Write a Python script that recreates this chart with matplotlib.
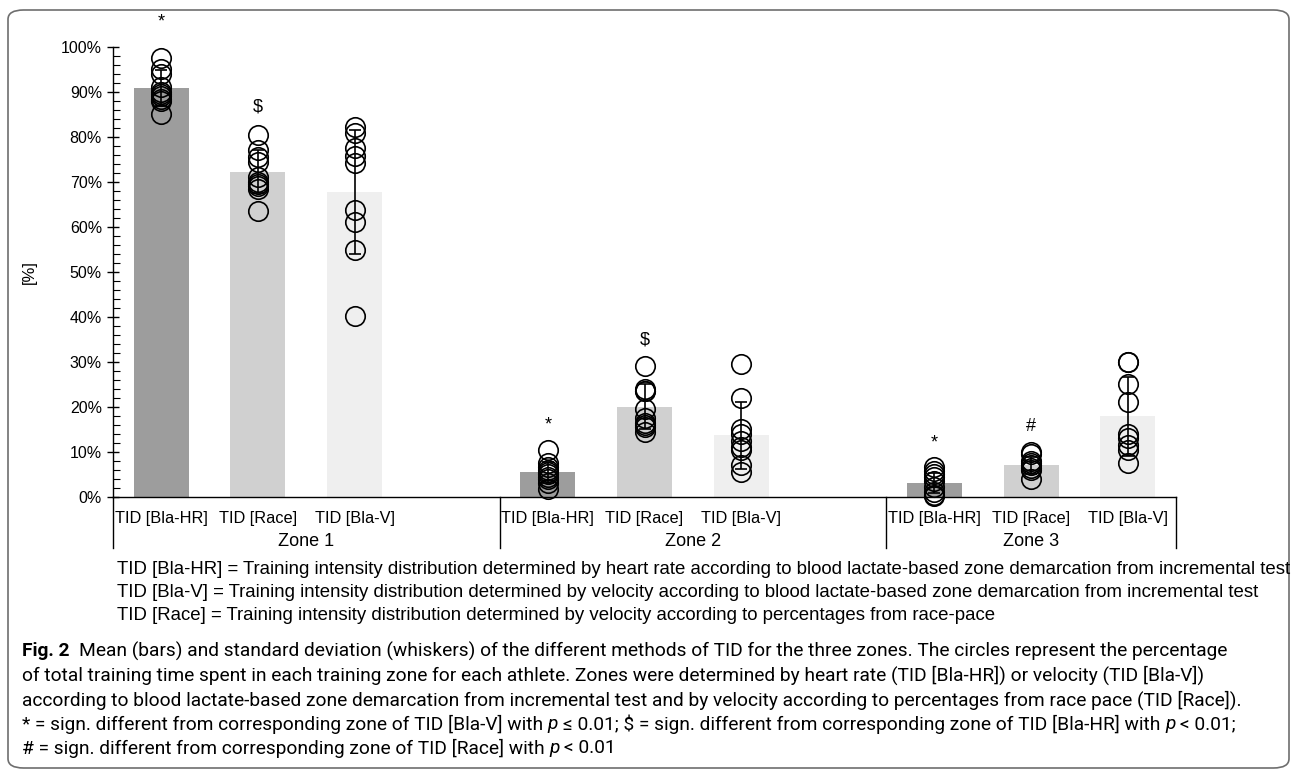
import matplotlib
matplotlib.use("Agg")
import matplotlib.pyplot as plt
import matplotlib.transforms as mtransforms
from matplotlib.patches import FancyBboxPatch

# data (percent of total training time)
zones = ["Zone 1", "Zone 2", "Zone 3"]
methods = ["TID [Bla-HR]", "TID [Race]", "TID [Bla-V]"]
positions = [0.5, 1.5, 2.5, 4.5, 5.5, 6.5, 8.5, 9.5, 10.5]
zone_edges = [0, 4, 8, 11]

means = [90.8, 72.3, 67.7, 5.5, 20.1, 13.7, 3.1, 7.0, 17.9]
sds = [4.0, 4.8, 13.8, 2.3, 5.0, 7.5, 2.3, 1.9, 8.8]

athletes = [
    [97.5, 95, 94, 91, 90, 89.5, 89, 88.5, 88, 85],
    [80.5, 77, 75.5, 74.5, 71, 70, 69.5, 69, 68.5, 63.5],
    [82.2, 80.9, 77.5, 75.8, 74.2, 63.8, 61.1, 54.9, 40.2],
    [10.5, 7.5, 6.7, 6, 5.5, 5, 4.5, 4, 3, 1.8],
    [29, 24, 23.5, 23.5, 19.5, 17.5, 16.5, 16, 15.5, 14.5],
    [29.5, 22, 15, 14, 12.5, 11, 10.5, 7, 5.5],
    [6.7, 5.8, 5, 4.5, 3.5, 2.3, 1, 0.5, 0.2],
    [10, 9.5, 8, 7.5, 7, 6.5, 6, 4],
    [30, 30, 25, 21, 14, 13, 11.5, 10.5, 7.5],
]

sig_marks = ["*", "$", "", "*", "$", "", "*", "#", ""]
sig_y = [105.5, 86.7, 0, 16.0, 34.9, 0, 12.0, 15.6, 0]

bar_colors = ["#9d9d9d", "#d0d0d0", "#efefef"] * 3

legend_lines = [
    "TID [Bla-HR] = Training intensity distribution determined by heart rate according to blood lactate-based zone demarcation from incremental test",
    "TID [Bla-V] = Training intensity distribution determined by velocity according to blood lactate-based zone demarcation from incremental test",
    "TID [Race] = Training intensity distribution determined by velocity according to percentages from race-pace",
]

W, H = 1296, 776
fig = plt.figure(figsize=(W / 100, H / 100), dpi=100)
ax = fig.add_axes([113 / W, 1 - 497 / H, (1176 - 113) / W, (497 - 47) / H])

chart_font = ["Liberation Sans", "DejaVu Sans"]
cap_font = ["Roboto", "Open Sans", "DejaVu Sans"]

ax.bar(positions, means, width=0.57, color=bar_colors, zorder=1)
ax.errorbar(positions, means, yerr=sds, fmt="none", ecolor="black",
            elinewidth=1.2, capsize=4.5, capthick=1.2, zorder=3)
for x, vals in zip(positions, athletes):
    ax.plot([x] * len(vals), vals, "o", ms=14, mfc="none", mec="black",
            mew=1.2, zorder=4, clip_on=False)
for x, m, y in zip(positions, sig_marks, sig_y):
    if m:
        ax.text(x, y, m, ha="center", va="center", fontsize=13,
                family=chart_font, clip_on=False)

ax.set_xlim(0, 11)
ax.set_ylim(0, 100)
ax.set_yticks(range(0, 101, 10))
ax.set_yticklabels([f"{v}%" for v in range(0, 101, 10)], family=chart_font, fontsize=11.5)
ax.set_yticks(range(0, 101, 2), minor=True)
ax.tick_params(axis="y", which="major", direction="inout", length=9, width=1)
ax.tick_params(axis="y", which="minor", direction="in", length=5, width=0.8)
ax.set_xticks([])
for s in ["top", "right"]:
    ax.spines[s].set_visible(False)
ax.spines["left"].set_linewidth(1)
ax.spines["bottom"].set_linewidth(1)
ax.set_ylabel("[%]", family=chart_font, fontsize=12, labelpad=17)

# multi-level category axis
trans = mtransforms.blended_transform_factory(ax.transData, ax.transAxes)
ah = 450.0
for i, x in enumerate(positions):
    ax.text(x, -22 / ah, methods[i % 3], transform=trans, ha="center",
            va="center", fontsize=11.8, family=chart_font)
for z in range(3):
    xc = (zone_edges[z] + zone_edges[z + 1]) / 2
    ax.text(xc, -44 / ah, zones[z], transform=trans, ha="center",
            va="center", fontsize=13, family=chart_font)
for e in zone_edges:
    ax.plot([e, e], [0, -51 / ah], transform=trans, color="black", lw=1,
            clip_on=False)

for i, line in enumerate(legend_lines):
    fig.text(117 / W, 1 - (569 + 23.5 * i) / H, line, ha="left", va="center",
             fontsize=13.4, family=chart_font)

# caption with mixed styles
fig.canvas.draw()
renderer = fig.canvas.get_renderer()


def text_width(s, **kw):
    t = fig.text(0, 0, s, **kw)
    w = t.get_window_extent(renderer).width
    t.remove()
    return w


def put_runs(x_px, y_px, parts, size=13.8):
    space = text_width("x x", fontsize=size, family=cap_font) - text_width("xx", fontsize=size, family=cap_font)
    for txt, weight, style in parts:
        lead = len(txt) - len(txt.lstrip(" "))
        trail = len(txt) - len(txt.rstrip(" "))
        x_px += lead * space
        core = txt.strip(" ")
        if core:
            t = fig.text(x_px / W, 1 - y_px / H, core, ha="left", va="center",
                         fontsize=size, family=cap_font, weight=weight, style=style)
            x_px += t.get_window_extent(renderer).width
        x_px += trail * space


n = ("normal", "normal")
put_runs(22, 651, [("Fig. 2", "bold", "normal"),
                   ("  Mean (bars) and standard deviation (whiskers) of the different methods of TID for the three zones. The circles represent the percentage",) + n])
put_runs(22, 675, [("of total training time spent in each training zone for each athlete. Zones were determined by heart rate (TID [Bla-HR]) or velocity (TID [Bla-V])",) + n])
put_runs(22, 700, [("according to blood lactate-based zone demarcation from incremental test and by velocity according to percentages from race pace (TID [Race]).",) + n])
put_runs(22, 724, [("* = sign. different from corresponding zone of TID [Bla-V] with ",) + n,
                   ("p", "normal", "italic"),
                   (" \u2264 0.01; $ = sign. different from corresponding zone of TID [Bla-HR] with ",) + n,
                   ("p", "normal", "italic"),
                   (" < 0.01;",) + n])
put_runs(22, 748, [("# = sign. different from corresponding zone of TID [Race] with ",) + n,
                   ("p", "normal", "italic"),
                   (" < 0.01",) + n])

border = FancyBboxPatch((8 / W, 1 - 768 / H), (1289 - 8) / W, (768 - 10) / H,
                        boxstyle="round,pad=0,rounding_size=0.012",
                        transform=fig.transFigure, fill=False,
                        edgecolor="#6e6e6e", lw=1.2)
fig.patches.append(border)

fig.savefig("out.png", dpi=100)
